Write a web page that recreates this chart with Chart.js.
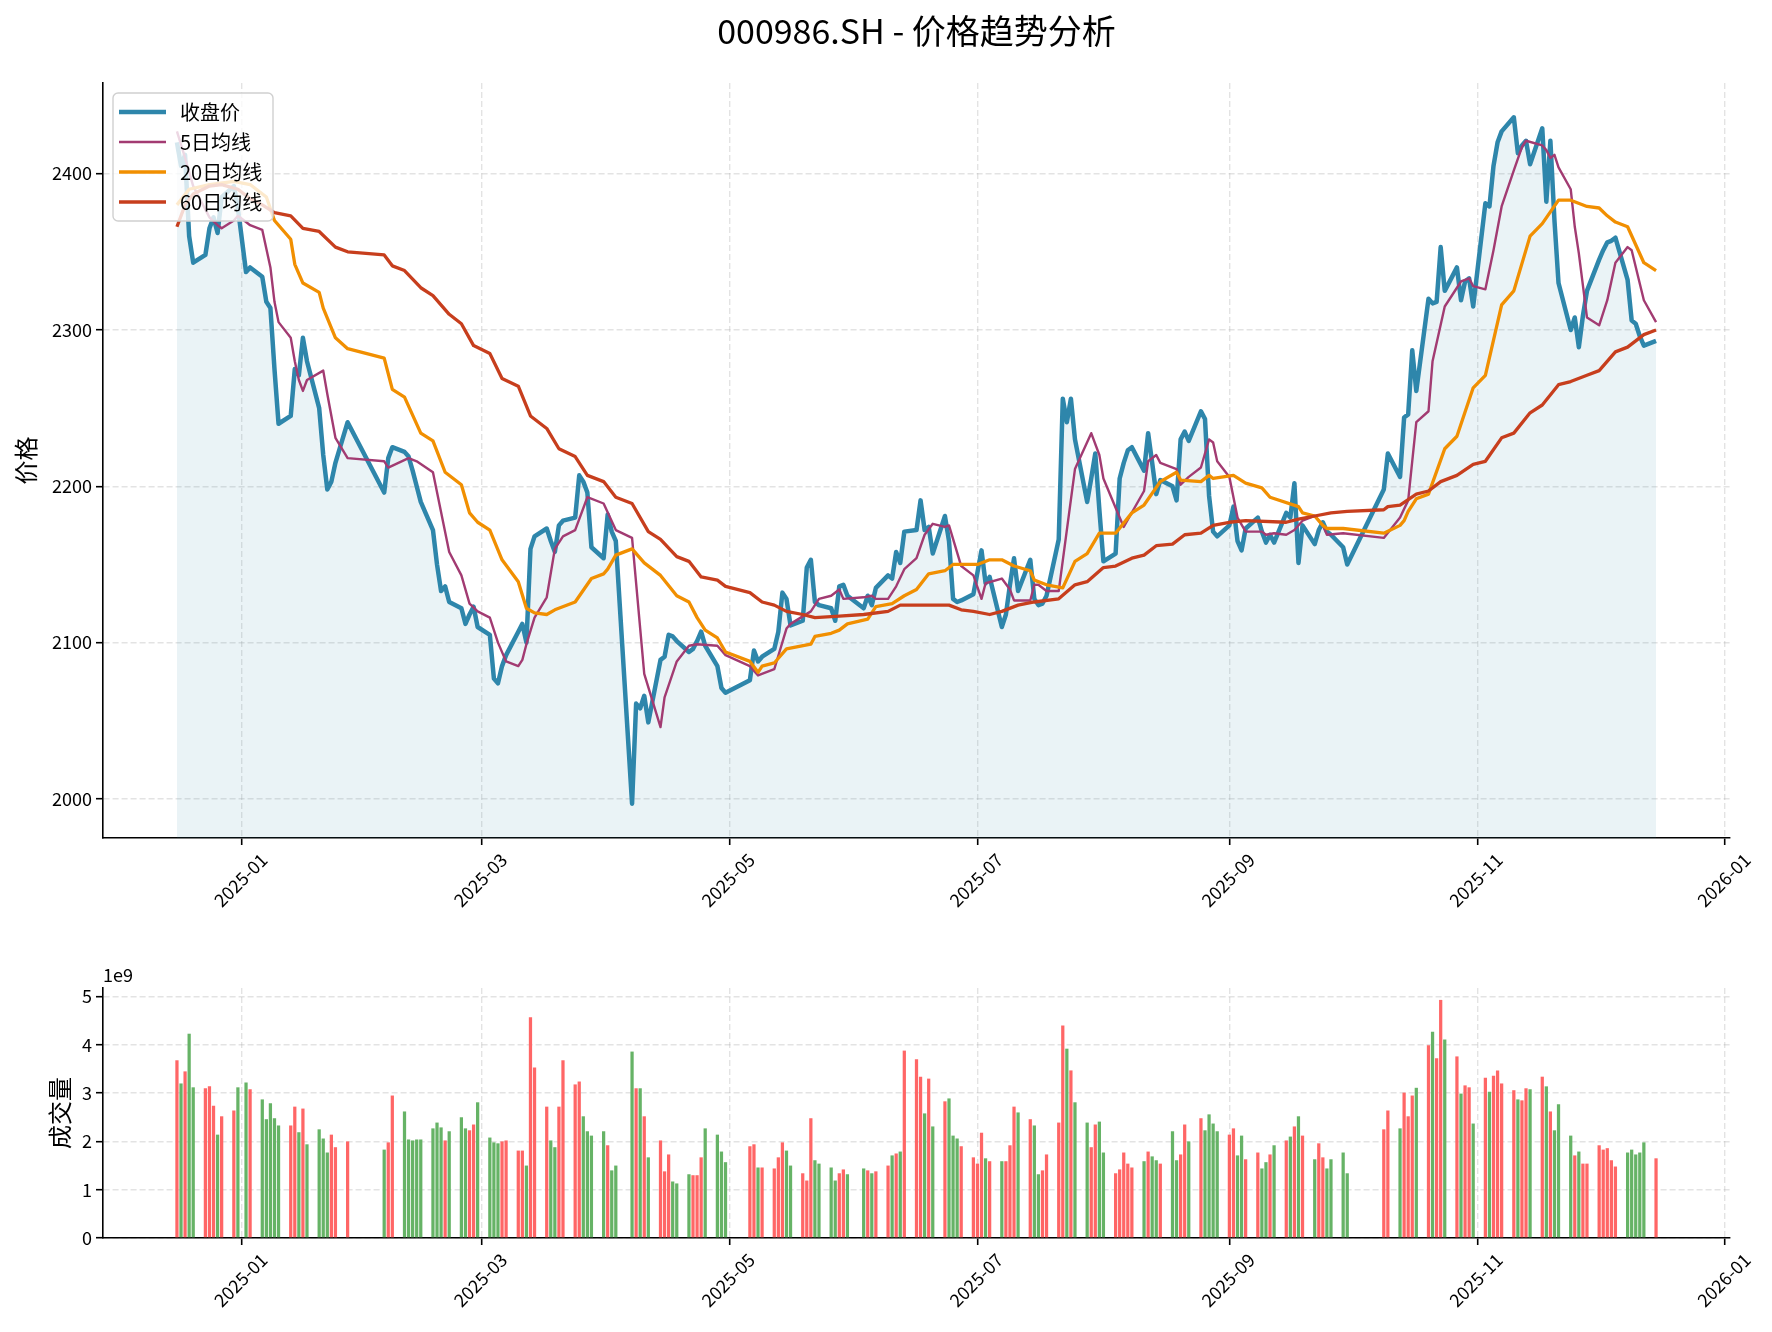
<!DOCTYPE html>
<html>
<head>
<meta charset="utf-8">
<script src="https://cdn.jsdelivr.net/npm/chart.js@4.4.1/dist/chart.umd.min.js"></script>
<style>
  html, body { margin: 0; padding: 0; background: #fff; }
  #wrap { position: relative; width: 1772px; height: 1332px; overflow: hidden; }
  #wrap canvas { position: absolute; left: 0; }
  #price { top: 0; }
  #volume { top: 940px; }
</style>
</head>
<body>
<div id="wrap">
  <canvas id="price" width="1772" height="940"></canvas>
  <canvas id="volume" width="1772" height="392"></canvas>
</div>
<script>
// ---- 数据 ----
const chartTitle = '000986.SH - 价格趋势分析';

// 休市的工作日（交易日 = 2024-12-16 ~ 2025-12-15 的工作日去掉这些）
const holidays = ['2025-01-01', '2025-01-28', '2025-01-29', '2025-01-30', '2025-01-31', '2025-02-03', '2025-02-04',
    '2025-04-04', '2025-05-01', '2025-05-02', '2025-05-05', '2025-06-02',
    '2025-10-01', '2025-10-02', '2025-10-03', '2025-10-06', '2025-10-07', '2025-10-08'];

// 收盘价（按交易日顺序）
const closePrices = [
    2420, 2405, 2412, 2360, 2343, 2348, 2365, 2372, 2362, 2385, 2392, 2378,
    2337, 2340, 2334, 2318, 2314, 2275, 2240, 2245, 2275, 2271, 2295, 2280, 2250, 2220, 2198, 2203, 2215, 2241,
    2196, 2218, 2225, 2222, 2219, 2210, 2200, 2190, 2172, 2150, 2133, 2136, 2126, 2122, 2112, 2118, 2123, 2110,
    2105, 2077, 2074, 2085, 2092, 2107, 2112, 2100, 2160, 2168, 2173, 2165, 2158, 2175, 2178, 2180, 2207, 2203, 2196, 2161, 2154,
    2182, 2171, 2165, 1997, 2061, 2058, 2066, 2049, 2089, 2091, 2105, 2104, 2101, 2094, 2096, 2101, 2107, 2098, 2085, 2071, 2068,
    2076, 2095, 2088, 2091, 2096, 2107, 2132, 2128, 2111, 2114, 2148, 2153, 2126, 2124, 2122, 2114, 2136, 2137, 2130,
    2122, 2130, 2124, 2135, 2143, 2141, 2158, 2151, 2171, 2172, 2191, 2172, 2174, 2157, 2181, 2165, 2128, 2126, 2127, 2131,
    2145, 2159, 2138, 2142, 2110, 2118, 2137, 2154, 2133, 2153, 2128, 2124, 2125, 2130, 2166, 2256, 2241, 2256, 2230, 2190, 2205, 2221, 2185,
    2152, 2157, 2205, 2215, 2223, 2225, 2210, 2234, 2215, 2195, 2204, 2200, 2191, 2230, 2235, 2229, 2248, 2243, 2194, 2171, 2168,
    2175, 2187, 2165, 2159, 2173, 2180, 2171, 2164, 2169, 2164, 2183, 2180, 2202, 2151, 2175, 2163, 2172, 2177, 2171, 2169, 2161, 2150,
    2198, 2221, 2206, 2244, 2246, 2287, 2261, 2320, 2317, 2318, 2353, 2325, 2340, 2319, 2331, 2333, 2315,
    2381, 2379, 2405, 2420, 2427, 2436, 2413, 2418, 2421, 2406, 2429, 2382, 2421, 2370, 2330, 2300, 2308, 2289, 2309, 2325,
    2345, 2351, 2356, 2357, 2359, 2332, 2306, 2304, 2296, 2290, 2293
];

// 成交量（单位 1e9）
const volumes = [
    3.68, 3.20, 3.45, 4.23, 3.12, 3.10, 3.14, 2.74, 2.14, 2.52, 2.64, 3.12,
    3.22, 3.08, 2.87, 2.46, 2.79, 2.48, 2.33, 2.33, 2.72, 2.19, 2.68, 1.94, 2.25, 2.06, 1.77, 2.14, 1.88, 2.00,
    1.83, 1.98, 2.95, 2.62, 2.04, 2.02, 2.04, 2.04, 2.27, 2.39, 2.29, 2.02, 2.21, 2.50, 2.27, 2.23, 2.35, 2.81,
    2.08, 1.98, 1.96, 2.00, 2.02, 1.81, 1.81, 1.50, 4.57, 3.53, 2.72, 2.02, 1.88, 2.72, 3.68, 3.18, 3.24, 2.52, 2.21, 2.12, 2.21,
    1.92, 1.40, 1.50, 3.86, 3.10, 3.10, 2.52, 1.67, 2.02, 1.38, 1.73, 1.17, 1.13, 1.32, 1.30, 1.30, 1.67, 2.27, 2.14, 1.79, 1.57,
    1.90, 1.94, 1.46, 1.46, 1.44, 1.67, 1.98, 1.81, 1.50, 1.34, 1.19, 2.48, 1.61, 1.54, 1.46, 1.19, 1.34, 1.42, 1.32,
    1.44, 1.40, 1.34, 1.38, 1.50, 1.71, 1.75, 1.79, 3.88, 3.70, 3.34, 2.58, 3.30, 2.31, 2.83, 2.89, 2.12, 2.06, 1.90, 1.67,
    1.54, 2.18, 1.65, 1.59, 1.59, 1.59, 1.92, 2.72, 2.60, 2.46, 2.33, 1.32, 1.40, 1.73, 2.39, 4.40, 3.92, 3.47, 2.81, 2.39, 1.88, 2.35, 2.41,
    1.77, 1.34, 1.42, 1.77, 1.54, 1.46, 1.59, 1.79, 1.69, 1.61, 1.54, 2.21, 1.61, 1.73, 2.35, 2.00, 2.48, 2.23, 2.56, 2.37, 2.21,
    2.14, 2.27, 1.71, 2.12, 1.63, 1.77, 1.44, 1.57, 1.73, 1.92, 2.02, 2.10, 2.31, 2.52, 2.12, 1.63, 1.96, 1.67, 1.44, 1.63, 1.77, 1.34,
    2.25, 2.64, 2.27, 3.01, 2.52, 2.95, 3.11, 3.99, 4.27, 3.72, 4.93, 4.11, 3.76, 2.99, 3.16, 3.12, 2.37,
    3.32, 3.03, 3.36, 3.47, 3.20, 3.06, 2.87, 2.85, 3.10, 3.08, 3.34, 3.14, 2.62, 2.23, 2.77, 2.12, 1.71, 1.79, 1.54, 1.54,
    1.92, 1.83, 1.86, 1.61, 1.48, 1.77, 1.83, 1.73, 1.77, 1.98, 1.65
];

// 均线（读图得到的折点：[日期, 数值]）
const ma5Points = [
    ['2024-12-16', 2427], ['2024-12-18', 2410], ['2024-12-20', 2392], ['2024-12-24', 2372], ['2024-12-26', 2367],
    ['2024-12-27', 2365], ['2024-12-30', 2370], ['2024-12-31', 2373], ['2025-01-02', 2369], ['2025-01-03', 2367],
    ['2025-01-06', 2364], ['2025-01-08', 2340], ['2025-01-09', 2318], ['2025-01-10', 2305], ['2025-01-13', 2295],
    ['2025-01-14', 2280], ['2025-01-15', 2268], ['2025-01-16', 2261], ['2025-01-17', 2268], ['2025-01-21', 2274],
    ['2025-01-22', 2259], ['2025-01-24', 2231], ['2025-01-27', 2218], ['2025-02-05', 2216], ['2025-02-06', 2212],
    ['2025-02-11', 2218], ['2025-02-13', 2216], ['2025-02-17', 2209], ['2025-02-21', 2158], ['2025-02-24', 2143],
    ['2025-02-26', 2125], ['2025-02-28', 2120], ['2025-03-03', 2116], ['2025-03-05', 2100], ['2025-03-07', 2088],
    ['2025-03-10', 2085], ['2025-03-11', 2089], ['2025-03-12', 2099], ['2025-03-14', 2116], ['2025-03-17', 2129],
    ['2025-03-19', 2160], ['2025-03-21', 2168], ['2025-03-24', 2172], ['2025-03-27', 2193], ['2025-03-31', 2189],
    ['2025-04-03', 2172], ['2025-04-07', 2167], ['2025-04-10', 2080], ['2025-04-14', 2046], ['2025-04-15', 2065],
    ['2025-04-18', 2088], ['2025-04-21', 2098], ['2025-04-23', 2099], ['2025-04-28', 2098], ['2025-04-30', 2092],
    ['2025-05-06', 2085], ['2025-05-08', 2079], ['2025-05-12', 2083], ['2025-05-15', 2109], ['2025-05-16', 2112],
    ['2025-05-21', 2120], ['2025-05-23', 2128], ['2025-05-26', 2130], ['2025-05-28', 2134], ['2025-05-29', 2128],
    ['2025-06-03', 2129], ['2025-06-05', 2130], ['2025-06-06', 2128], ['2025-06-09', 2128], ['2025-06-11', 2136],
    ['2025-06-13', 2147], ['2025-06-16', 2154], ['2025-06-18', 2169], ['2025-06-20', 2176], ['2025-06-23', 2174],
    ['2025-06-24', 2175], ['2025-06-27', 2149], ['2025-06-30', 2143], ['2025-07-02', 2128], ['2025-07-03', 2138],
    ['2025-07-07', 2141], ['2025-07-09', 2134], ['2025-07-10', 2127], ['2025-07-14', 2127], ['2025-07-15', 2137],
    ['2025-07-16', 2137], ['2025-07-18', 2133], ['2025-07-21', 2133], ['2025-07-25', 2211], ['2025-07-29', 2234],
    ['2025-07-31', 2220], ['2025-08-01', 2205], ['2025-08-05', 2180], ['2025-08-06', 2174], ['2025-08-11', 2197],
    ['2025-08-12', 2216], ['2025-08-14', 2220], ['2025-08-15', 2215], ['2025-08-19', 2211], ['2025-08-20', 2201],
    ['2025-08-22', 2206], ['2025-08-25', 2212], ['2025-08-27', 2230], ['2025-08-28', 2228], ['2025-08-29', 2216],
    ['2025-09-01', 2206], ['2025-09-03', 2180], ['2025-09-05', 2171], ['2025-09-09', 2171], ['2025-09-10', 2169],
    ['2025-09-12', 2170], ['2025-09-15', 2169], ['2025-09-17', 2172], ['2025-09-19', 2178], ['2025-09-22', 2181],
    ['2025-09-24', 2175], ['2025-09-25', 2169], ['2025-09-29', 2170], ['2025-10-09', 2167], ['2025-10-13', 2180],
    ['2025-10-15', 2191], ['2025-10-17', 2241], ['2025-10-20', 2248], ['2025-10-21', 2280], ['2025-10-24', 2315],
    ['2025-10-28', 2331], ['2025-10-30', 2333], ['2025-10-31', 2328], ['2025-11-03', 2326], ['2025-11-05', 2351],
    ['2025-11-07', 2379], ['2025-11-10', 2402], ['2025-11-12', 2417], ['2025-11-13', 2421], ['2025-11-17', 2418],
    ['2025-11-18', 2415], ['2025-11-19', 2410], ['2025-11-20', 2412], ['2025-11-21', 2404], ['2025-11-24', 2390],
    ['2025-11-25', 2366], ['2025-11-26', 2349], ['2025-11-28', 2308], ['2025-12-01', 2303], ['2025-12-03', 2319],
    ['2025-12-05', 2343], ['2025-12-08', 2353], ['2025-12-09', 2351], ['2025-12-12', 2319], ['2025-12-15', 2305]
];

const ma20Points = [
    ['2024-12-16', 2380], ['2024-12-19', 2390], ['2024-12-24', 2393], ['2024-12-30', 2395], ['2025-01-03', 2393],
    ['2025-01-07', 2385], ['2025-01-09', 2370], ['2025-01-13', 2358], ['2025-01-14', 2342], ['2025-01-16', 2330],
    ['2025-01-20', 2324], ['2025-01-21', 2314], ['2025-01-24', 2295], ['2025-01-27', 2288], ['2025-02-05', 2282],
    ['2025-02-07', 2262], ['2025-02-10', 2257], ['2025-02-14', 2234], ['2025-02-17', 2229], ['2025-02-20', 2209],
    ['2025-02-24', 2201], ['2025-02-26', 2183], ['2025-02-28', 2177], ['2025-03-03', 2172], ['2025-03-06', 2153],
    ['2025-03-10', 2139], ['2025-03-12', 2122], ['2025-03-14', 2119], ['2025-03-17', 2118], ['2025-03-19', 2121],
    ['2025-03-24', 2126], ['2025-03-28', 2141], ['2025-03-31', 2144], ['2025-04-01', 2147], ['2025-04-03', 2156],
    ['2025-04-07', 2160], ['2025-04-10', 2151], ['2025-04-14', 2143], ['2025-04-18', 2130], ['2025-04-21', 2126],
    ['2025-04-23', 2116], ['2025-04-25', 2108], ['2025-04-28', 2103], ['2025-04-30', 2094], ['2025-05-06', 2088],
    ['2025-05-08', 2081], ['2025-05-09', 2085], ['2025-05-12', 2087], ['2025-05-13', 2090], ['2025-05-15', 2096],
    ['2025-05-21', 2099], ['2025-05-22', 2104], ['2025-05-26', 2106], ['2025-05-28', 2108], ['2025-05-30', 2112],
    ['2025-06-04', 2115], ['2025-06-06', 2123], ['2025-06-10', 2125], ['2025-06-13', 2130], ['2025-06-16', 2134],
    ['2025-06-19', 2144], ['2025-06-23', 2146], ['2025-06-25', 2150], ['2025-07-01', 2150], ['2025-07-04', 2153],
    ['2025-07-07', 2153], ['2025-07-10', 2149], ['2025-07-14', 2146], ['2025-07-15', 2140], ['2025-07-18', 2137],
    ['2025-07-22', 2135], ['2025-07-25', 2152], ['2025-07-28', 2157], ['2025-07-31', 2170], ['2025-08-04', 2170],
    ['2025-08-08', 2183], ['2025-08-11', 2188], ['2025-08-15', 2203], ['2025-08-19', 2209], ['2025-08-20', 2204],
    ['2025-08-25', 2203], ['2025-08-27', 2207], ['2025-08-28', 2205], ['2025-09-02', 2207], ['2025-09-05', 2202],
    ['2025-09-09', 2199], ['2025-09-11', 2193], ['2025-09-18', 2187], ['2025-09-19', 2183], ['2025-09-22', 2181],
    ['2025-09-24', 2175], ['2025-09-25', 2173], ['2025-09-29', 2173], ['2025-10-09', 2170], ['2025-10-13', 2175],
    ['2025-10-14', 2178], ['2025-10-15', 2184], ['2025-10-17', 2192], ['2025-10-20', 2195], ['2025-10-24', 2224],
    ['2025-10-27', 2232], ['2025-10-31', 2263], ['2025-11-03', 2271], ['2025-11-07', 2316], ['2025-11-10', 2325],
    ['2025-11-14', 2360], ['2025-11-17', 2368], ['2025-11-21', 2383], ['2025-11-24', 2383], ['2025-11-28', 2379],
    ['2025-12-01', 2378], ['2025-12-03', 2373], ['2025-12-05', 2369], ['2025-12-08', 2366], ['2025-12-12', 2343],
    ['2025-12-15', 2338]
];

const ma60Points = [
    ['2024-12-16', 2366], ['2024-12-18', 2380], ['2024-12-20', 2387], ['2024-12-24', 2392], ['2024-12-27', 2393],
    ['2024-12-31', 2390], ['2025-01-03', 2384], ['2025-01-06', 2380], ['2025-01-09', 2375], ['2025-01-13', 2373],
    ['2025-01-16', 2365], ['2025-01-20', 2363], ['2025-01-24', 2353], ['2025-01-27', 2350], ['2025-02-05', 2348],
    ['2025-02-07', 2341], ['2025-02-10', 2338], ['2025-02-14', 2327], ['2025-02-17', 2322], ['2025-02-21', 2310],
    ['2025-02-24', 2304], ['2025-02-27', 2290], ['2025-03-03', 2285], ['2025-03-06', 2269], ['2025-03-10', 2264],
    ['2025-03-13', 2245], ['2025-03-17', 2237], ['2025-03-20', 2224], ['2025-03-24', 2219], ['2025-03-27', 2207],
    ['2025-03-31', 2203], ['2025-04-03', 2193], ['2025-04-07', 2189], ['2025-04-11', 2171], ['2025-04-14', 2166],
    ['2025-04-18', 2155], ['2025-04-21', 2152], ['2025-04-24', 2142], ['2025-04-28', 2140], ['2025-04-30', 2136],
    ['2025-05-06', 2132], ['2025-05-09', 2126], ['2025-05-12', 2124], ['2025-05-15', 2120], ['2025-05-19', 2118],
    ['2025-05-22', 2116], ['2025-05-28', 2117], ['2025-06-03', 2118], ['2025-06-09', 2120], ['2025-06-12', 2124],
    ['2025-06-16', 2124], ['2025-06-19', 2124], ['2025-06-24', 2124], ['2025-06-27', 2121], ['2025-06-30', 2120],
    ['2025-07-04', 2118], ['2025-07-07', 2120], ['2025-07-11', 2124], ['2025-07-15', 2126], ['2025-07-21', 2128],
    ['2025-07-25', 2137], ['2025-07-28', 2139], ['2025-08-01', 2148], ['2025-08-04', 2149], ['2025-08-08', 2154],
    ['2025-08-11', 2156], ['2025-08-14', 2162], ['2025-08-18', 2163], ['2025-08-21', 2169], ['2025-08-25', 2170],
    ['2025-08-28', 2175], ['2025-09-01', 2177], ['2025-09-05', 2178], ['2025-09-15', 2177], ['2025-09-18', 2179],
    ['2025-09-22', 2181], ['2025-09-26', 2183], ['2025-09-30', 2184], ['2025-10-09', 2185], ['2025-10-10', 2187],
    ['2025-10-13', 2188], ['2025-10-17', 2195], ['2025-10-20', 2197], ['2025-10-23', 2203], ['2025-10-27', 2207],
    ['2025-10-31', 2214], ['2025-11-03', 2216], ['2025-11-07', 2231], ['2025-11-10', 2234], ['2025-11-14', 2247],
    ['2025-11-17', 2252], ['2025-11-21', 2265], ['2025-11-24', 2267], ['2025-11-28', 2271], ['2025-12-01', 2274],
    ['2025-12-05', 2286], ['2025-12-08', 2289], ['2025-12-12', 2297], ['2025-12-15', 2300]
];

// 坐标轴刻度
const xTickDates = ['2025-01-01', '2025-03-01', '2025-05-01', '2025-07-01', '2025-09-01', '2025-11-01', '2026-01-01'];
const xTickLabels = ['2025-01', '2025-03', '2025-05', '2025-07', '2025-09', '2025-11', '2026-01'];
const priceTicks = [2000, 2100, 2200, 2300, 2400];
const volumeTicks = [0, 1, 2, 3, 4, 5];

// ---- 日期换算：以 2025-01-01 为 0 的天数 ----
const DAY = 864e5;
const BASE = Date.UTC(2025, 0, 1);
const toDay = s => (Date.parse(s + 'T00:00:00Z') - BASE) / DAY;

// 交易日
const tradeDates = [];
for (let t = Date.UTC(2024, 11, 16); t <= Date.UTC(2025, 11, 15); t += DAY) {
    const d = new Date(t);
    const iso = d.toISOString().slice(0, 10);
    const wd = d.getUTCDay();
    if (wd > 0 && wd < 6 && !holidays.includes(iso)) tradeDates.push(iso);
}
const tradeX = tradeDates.map(toDay);

// 和 matplotlib 一样留 5% 边距
const xFirst = tradeX[0], xLast = tradeX[tradeX.length - 1];
const xPad = (xLast - xFirst) * 0.05;
const allPrices = closePrices.concat(ma5Points.map(p => p[1]), ma20Points.map(p => p[1]), ma60Points.map(p => p[1]));
const pMin = Math.min(...allPrices), pMax = Math.max(...allPrices);
const pPad = (pMax - pMin) * 0.05;
const vMax = Math.max(...volumes) * 1.05;

// 涨红跌绿
const barColors = closePrices.map((c, i) => (i === 0 || c >= closePrices[i - 1]) ? '#ff6666' : '#66b366');

Chart.defaults.font.family = "'Noto Sans CJK SC', 'Noto Sans', sans-serif";
Chart.defaults.color = '#000';

const FONT = "'Noto Sans CJK SC', 'Noto Sans', sans-serif";
const gridColor = 'rgba(176, 176, 176, 0.35)';

function xAxis(height) {
    return {
        type: 'linear',
        min: xFirst - xPad,
        max: xLast + xPad,
        offset: false,
        afterBuildTicks: s => { s.ticks = xTickDates.map(d => ({ value: toDay(d) })); },
        afterFit: s => { s.height = height; },
        grid: { offset: false, color: gridColor, lineWidth: 1.4, tickLength: 7, tickColor: '#000', tickWidth: 1.6 },
        border: { display: true, color: '#000', width: 1.6, dash: [6, 3] },
        ticks: {
            autoSkip: false, minRotation: 45, maxRotation: 45, labelOffset: 22, padding: 4,
            font: { size: 18 },
            callback: (v, i) => xTickLabels[i]
        }
    };
}

function yAxis(ticks, title, titlePad, min, max) {
    return {
        type: 'linear',
        min: min,
        max: max,
        afterBuildTicks: s => { s.ticks = ticks.map(v => ({ value: v })); },
        afterFit: s => { s.width = 103; },
        grid: { color: gridColor, lineWidth: 1.4, tickLength: 7, tickColor: '#000', tickWidth: 1.6 },
        border: { display: true, color: '#000', width: 1.6, dash: [6, 3] },
        ticks: { padding: 4, font: { size: 18 }, callback: v => String(v) },
        title: { display: true, text: title, font: { size: 24 }, padding: { top: titlePad, bottom: 0 } }
    };
}

// 标题
const titlePlugin = {
    id: 'bigTitle',
    afterDraw(chart) {
        const { ctx, chartArea } = chart;
        ctx.save();
        ctx.font = `34px ${FONT}`;
        ctx.fillStyle = '#000';
        ctx.textAlign = 'center';
        ctx.textBaseline = 'middle';
        ctx.fillText(chartTitle, (chartArea.left + chartArea.right) / 2, 31);
        ctx.restore();
    }
};

// 图例（左上角，半透明白底）
const legendPlugin = {
    id: 'boxLegend',
    afterDraw(chart) {
        const { ctx, chartArea } = chart;
        const x0 = chartArea.left + 10, y0 = chartArea.top + 10;
        ctx.save();
        ctx.beginPath();
        ctx.roundRect(x0, y0, 160, 128, 5);
        ctx.fillStyle = 'rgba(255, 255, 255, 0.8)';
        ctx.fill();
        ctx.lineWidth = 1.4;
        ctx.strokeStyle = '#d0d0d0';
        ctx.stroke();
        ctx.font = `20px ${FONT}`;
        ctx.textBaseline = 'middle';
        ctx.textAlign = 'left';
        chart.data.datasets.forEach((ds, i) => {
            const y = y0 + 19 + i * 30;
            ctx.beginPath();
            ctx.moveTo(x0 + 6, y);
            ctx.lineTo(x0 + 53, y);
            ctx.strokeStyle = ds.borderColor;
            ctx.lineWidth = ds.borderWidth;
            ctx.stroke();
            ctx.fillStyle = '#000';
            ctx.fillText(ds.label, x0 + 67, y);
        });
        ctx.restore();
    }
};

// 成交量坐标的 1e9
const offsetPlugin = {
    id: 'offsetText',
    afterDraw(chart) {
        const { ctx, chartArea } = chart;
        ctx.save();
        ctx.font = `18px ${FONT}`;
        ctx.fillStyle = '#000';
        ctx.textAlign = 'left';
        ctx.textBaseline = 'middle';
        ctx.fillText('1e9', chartArea.left, chartArea.top - 13);
        ctx.restore();
    }
};

const lineDefaults = { pointRadius: 0, tension: 0, borderJoinStyle: 'round', fill: false };

new Chart(document.getElementById('price'), {
    type: 'line',
    data: {
        datasets: [
            {
                ...lineDefaults, label: '收盘价', order: 4,
                data: tradeX.map((x, i) => ({ x, y: closePrices[i] })),
                borderColor: '#2E86AB', borderWidth: 4.5,
                backgroundColor: 'rgba(46, 134, 171, 0.1)', fill: 'start'
            },
            {
                ...lineDefaults, label: '5日均线', order: 3,
                data: ma5Points.map(p => ({ x: toDay(p[0]), y: p[1] })),
                borderColor: '#A23B72', borderWidth: 2.4
            },
            {
                ...lineDefaults, label: '20日均线', order: 2,
                data: ma20Points.map(p => ({ x: toDay(p[0]), y: p[1] })),
                borderColor: '#F18F01', borderWidth: 3.3
            },
            {
                ...lineDefaults, label: '60日均线', order: 1,
                data: ma60Points.map(p => ({ x: toDay(p[0]), y: p[1] })),
                borderColor: '#C73E1D', borderWidth: 3.3
            }
        ]
    },
    options: {
        responsive: false,
        animation: false,
        events: [],
        layout: { padding: { left: 0, right: 42, top: 83, bottom: 0 } },
        plugins: { legend: { display: false }, tooltip: { enabled: false } },
        scales: {
            x: xAxis(102),
            y: yAxis(priceTicks, '价格', 11, pMin - pPad, pMax + pPad)
        }
    },
    plugins: [titlePlugin, legendPlugin]
});

new Chart(document.getElementById('volume'), {
    type: 'bar',
    data: {
        datasets: [{
            label: '成交量',
            data: tradeX.map((x, i) => ({ x, y: volumes[i] })),
            backgroundColor: barColors,
            barPercentage: 0.8,
            categoryPercentage: 1.0
        }]
    },
    options: {
        responsive: false,
        animation: false,
        events: [],
        layout: { padding: { left: 0, right: 42, top: 48, bottom: 0 } },
        plugins: { legend: { display: false }, tooltip: { enabled: false } },
        scales: {
            x: xAxis(94),
            y: yAxis(volumeTicks, '成交量', 45, 0, vMax)
        }
    },
    plugins: [offsetPlugin]
});
</script>
</body>
</html>
